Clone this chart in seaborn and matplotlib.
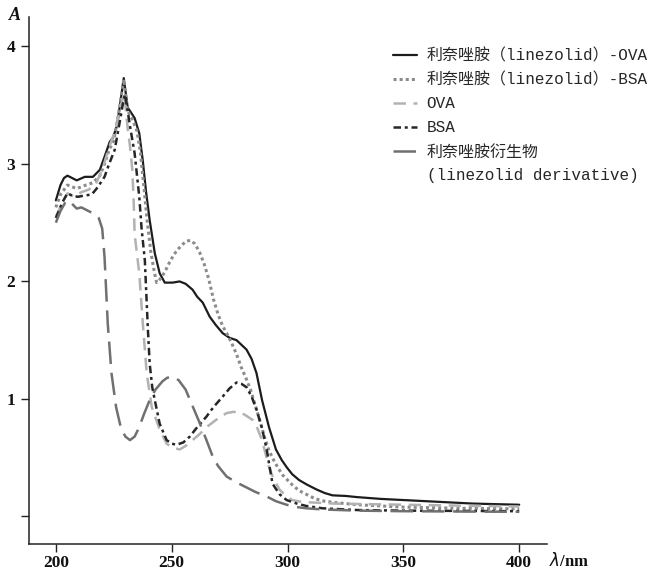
import numpy as np
import pandas as pd
import matplotlib
matplotlib.use("Agg")
import matplotlib.pyplot as plt
from matplotlib.lines import Line2D
import seaborn as sns

# ---------------- data ----------------
# linezolid-OVA (solid)
lzd_ova_x = [200, 202, 203.5, 205, 207, 209, 212.5, 216, 219, 221, 223.3, 224.6, 226.3, 227.6, 229.3,
             231, 234, 236, 237.5, 239, 240.5, 242.7, 244.8, 247, 250.4, 253.4, 256, 259, 261,
             263.4, 266.4, 269, 272, 275, 278, 282.3, 284.5, 286.6, 289, 292, 295, 297.5, 299.6,
             302, 305, 308.5, 312.5, 316, 319.4, 325, 330, 340, 350, 360, 370, 380, 390, 400]
lzd_ova_y = [2.69, 2.82, 2.88, 2.90, 2.88, 2.86, 2.89, 2.89, 2.95, 3.06, 3.19, 3.22, 3.32, 3.49, 3.73,
             3.48, 3.39, 3.26, 3.03, 2.75, 2.52, 2.24, 2.07, 1.99, 1.99, 2.00, 1.98, 1.93, 1.87,
             1.82, 1.70, 1.63, 1.56, 1.52, 1.50, 1.42, 1.34, 1.22, 0.99, 0.76, 0.57, 0.48, 0.42,
             0.36, 0.31, 0.27, 0.23, 0.20, 0.18, 0.175, 0.165, 0.15, 0.14, 0.13, 0.12, 0.11, 0.105, 0.10]

# linezolid-BSA (dotted)
lzd_bsa_x = [200, 202, 205, 209, 213, 216, 219, 221, 223, 225, 227, 229.3, 231, 233, 235, 236.5,
             238, 239.5, 241, 242.5, 243.5, 245, 247, 249, 251, 253, 254, 256, 258, 260, 262, 264,
             266, 268, 270, 272, 274, 276, 278, 280, 282, 284, 286, 288, 290, 292, 294, 296, 298,
             300, 302, 305, 308, 312, 316, 320, 330, 340, 350, 375, 400]
lzd_bsa_y = [2.63, 2.74, 2.82, 2.79, 2.82, 2.84, 2.90, 3.00, 3.12, 3.20, 3.42, 3.72, 3.45, 3.38, 3.28, 3.10,
             2.80, 2.50, 2.25, 2.08, 1.99, 2.02, 2.08, 2.16, 2.23, 2.28, 2.30, 2.34, 2.35, 2.32, 2.25, 2.15,
             2.02, 1.85, 1.72, 1.62, 1.55, 1.47, 1.38, 1.27, 1.18, 1.08, 0.95, 0.82, 0.68, 0.56, 0.48, 0.41, 0.35,
             0.31, 0.27, 0.22, 0.19, 0.15, 0.13, 0.12, 0.10, 0.09, 0.08, 0.07, 0.065]

# OVA (light dashed)
ova_x = [200, 203, 205, 208, 211, 214, 217, 220, 222, 224, 226, 228, 229.5, 231, 232, 233, 233.6,
         234, 236, 237.5, 239.2, 241.4, 244.8, 247.8, 250, 253.4, 256, 259, 262, 265, 269, 273.7,
         276.5, 279.3, 282, 285, 287, 289, 292, 294, 296.5, 299, 302, 306, 310, 320, 350, 400]
ova_y = [2.55, 2.68, 2.75, 2.72, 2.76, 2.78, 2.82, 2.95, 3.08, 3.20, 3.30, 3.50, 3.60, 3.30, 3.15, 2.95, 2.67,
         2.40, 2.07, 1.65, 1.22, 0.93, 0.74, 0.62, 0.59, 0.57, 0.60, 0.65, 0.70, 0.76, 0.82, 0.88,
         0.89, 0.89, 0.86, 0.82, 0.75, 0.65, 0.42, 0.32, 0.23, 0.18, 0.14, 0.125, 0.12, 0.11, 0.10, 0.085]

# BSA (dark dash-dot)
bsa_x = [200, 203, 205, 207, 209.5, 212, 215.5, 218, 221, 223, 225.4, 227.5, 229, 229.8, 231, 232,
         234, 236, 237, 238.4, 239.7, 240.5, 241.6, 242.7, 244.8, 247.8, 250, 252, 255, 257.8, 261,
         265, 268, 272, 275, 278, 280, 282.3, 284.5, 286.6, 289, 291, 293.5, 296.5, 299.6, 304, 308,
         315, 330, 350, 400]
bsa_y = [2.54, 2.68, 2.75, 2.73, 2.72, 2.73, 2.74, 2.80, 2.89, 3.00, 3.12, 3.35, 3.52, 3.59, 3.45, 3.32,
         3.09, 2.72, 2.45, 2.18, 1.60, 1.30, 1.10, 0.99, 0.79, 0.65, 0.62, 0.61, 0.63, 0.68, 0.76,
         0.85, 0.93, 1.02, 1.09, 1.14, 1.13, 1.10, 1.02, 0.91, 0.75, 0.57, 0.28, 0.19, 0.14, 0.11, 0.09,
         0.07, 0.055, 0.05, 0.045]

# linezolid derivative (long dash)
deriv_x = [200, 202, 204, 205.5, 207, 209, 211, 213, 215, 217, 218.5, 220, 221, 222.4, 224, 226,
           228, 230, 232, 234, 236, 238, 240.5, 243, 246, 248, 250.4, 253, 256, 259, 262, 265,
           267.7, 270, 273.7, 278, 282, 286, 291, 295, 299.6, 304, 308, 315, 330, 350, 400]
deriv_y = [2.50, 2.60, 2.67, 2.69, 2.66, 2.62, 2.63, 2.61, 2.59, 2.57, 2.54, 2.45, 2.21, 1.64, 1.22, 0.93,
           0.76, 0.68, 0.65, 0.68, 0.76, 0.87, 0.99, 1.08, 1.15, 1.18, 1.19, 1.16, 1.08, 0.94, 0.80, 0.65,
           0.51, 0.43, 0.34, 0.29, 0.25, 0.21, 0.17, 0.13, 0.10, 0.08, 0.07, 0.06, 0.05, 0.045, 0.04]

series_labels = ["利奈唑胺（linezolid）-OVA", "利奈唑胺（linezolid）-BSA", "OVA", "BSA",
                 "利奈唑胺衍生物"]
second_line = "(linezolid derivative)"
y_ticks = [0, 1, 2, 3, 4]
y_ticklabels = ["", "1", "2", "3", "4"]
x_ticks = [200, 250, 300, 350, 400]

# ---------------- style ----------------
sns.set_theme(style="ticks")
plt.rcParams["font.family"] = ["Liberation Serif", "Noto Sans CJK SC"]

fig = plt.figure(figsize=(6.5, 5.72), dpi=100)
ax = fig.add_axes([29 / 650, 1 - 544 / 572, (547 - 29) / 650, (544 - 17) / 572])

styles = [
    dict(color="#1c1c1c", linestyle="-", linewidth=1.6),
    dict(color="#8c8c8c", linestyle=(0, (1, 1)), linewidth=2.2),
    dict(color="#b2b2b2", linestyle=(0, (5, 3)), linewidth=1.8),
    dict(color="#262626", linestyle=(0, (3, 1.5, 1.2, 1.5)), linewidth=1.8),
    dict(color="#707070", linestyle=(0, (9, 3.5)), linewidth=1.8),
]
xs = [lzd_ova_x, lzd_bsa_x, ova_x, bsa_x, deriv_x]
ys = [lzd_ova_y, lzd_bsa_y, ova_y, bsa_y, deriv_y]

for x, y, lab, st in zip(xs, ys, series_labels, styles):
    df = pd.DataFrame({"wl": x, "A": y})
    sns.lineplot(data=df, x="wl", y="A", ax=ax, label=lab, sort=False,
                 estimator=None, **st)

ax.set_xlim(188.4, 412)
ax.set_ylim(-0.234, 4.25)
ax.set_xticks(x_ticks)
ax.set_yticks(y_ticks)
ax.set_yticklabels(y_ticklabels)
ax.set_xlabel("")
ax.set_ylabel("")
sns.despine(ax=ax)
for sp in ["left", "bottom"]:
    ax.spines[sp].set_color("#222222")
    ax.spines[sp].set_linewidth(1.1)
ax.tick_params(axis="both", direction="out", length=5.5, width=1.0, color="#222222",
               labelsize=12.5, labelcolor="#111111")
ax.tick_params(axis="x", pad=2.2)
ax.tick_params(axis="y", pad=4.3)
for t in ax.get_xticklabels() + ax.get_yticklabels():
    t.set_fontweight("bold")

ax.get_legend().remove()
handles, labels = ax.get_legend_handles_labels()
handles.append(Line2D([], [], color="none"))
labels.append(second_line)
fig.legend(handles, labels, loc="upper left", bbox_to_anchor=(393 / 650, 1 - 48 / 572),
           bbox_transform=fig.transFigure, frameon=False, borderpad=0, borderaxespad=0,
           handlelength=1.5, handletextpad=0.6, labelspacing=0.56,
           prop={"family": ["Liberation Mono", "Noto Sans CJK SC"], "size": 11.5})

fig.text(15 / 650, 1 - 16 / 572, "A", fontsize=13, fontstyle="italic", fontweight="bold",
         ha="center", va="center", color="#111111")
fig.text(549 / 650, 1 - 561 / 572, r"$\lambda$/nm", fontsize=12, ha="left", va="center",
         color="#111111", fontweight="bold")

fig.savefig("out.png", dpi=100)
